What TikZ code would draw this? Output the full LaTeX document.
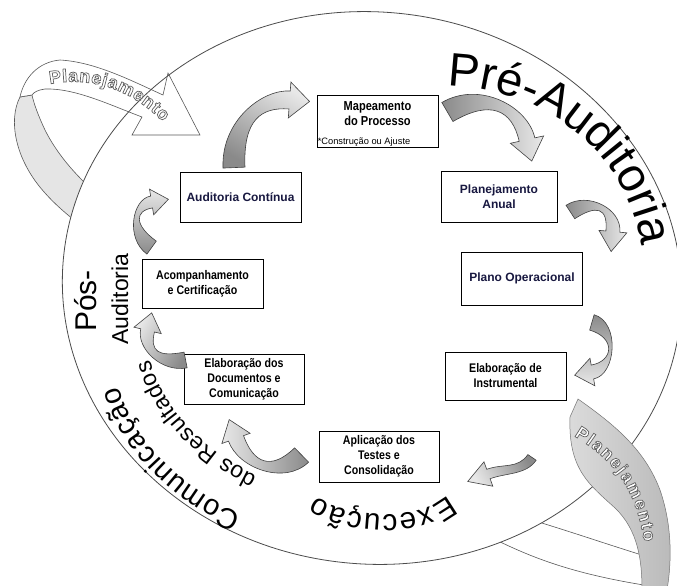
\documentclass[tikz,border=0pt]{standalone}
\usepackage{fontspec}
\setmainfont{Liberation Sans}
\newfontfamily\narrowfont{Liberation Sans}[FakeStretch=0.85]
\newfontfamily\ribbonfont{Liberation Sans}[FakeBold=4]
\usepackage{tikz}
\usetikzlibrary{calc}
\usetikzlibrary{shadows}
\usetikzlibrary{decorations.text}

\definecolor{boxNavy}{RGB}{24,24,64}
\definecolor{arrowDark}{RGB}{138,138,138}
\definecolor{arrowLight}{RGB}{232,232,232}

\tikzset{
	stepBox/.style={rectangle, draw=black, fill=white, line width=0.8pt, minimum width=121pt, minimum height=50pt, align=center, inner sep=2pt,
		drop shadow={shadow xshift=0.9pt, shadow yshift=-0.9pt, fill=black!65, opacity=1}},
	narrowBold/.style={font=\narrowfont\bfseries\fontsize{12.5}{15}\selectfont},
	navyBold/.style={font=\bfseries\fontsize{12}{15}\selectfont, text=boxNavy},
	smallNote/.style={font=\fontsize{9.3}{10}\selectfont},
	flowArrow/.style={draw=black!75, line width=0.6pt, left color=arrowDark, right color=arrowLight},
}

% curved block arrow: [shading] {tail}{control 1}{control 2}{neck}{tail width}{neck width}{head width}{head length}
\newcommand{\curvedArrow}[9][]{%
	\coordinate (ca0) at (#2);
	\coordinate (ca1) at (#3);
	\coordinate (ca2) at (#4);
	\coordinate (ca3) at (#5);
	\draw[flowArrow,#1] ($(ca0)!#6!90:(ca1)$) .. controls ($(ca1)!#6!-90:(ca0)$) and ($(ca2)!#7!90:(ca3)$) .. ($(ca3)!#7!-90:(ca2)$)
		-- ($(ca3)!#8!-90:(ca2)$) -- ($(ca3)!-#9!(ca2)$) -- ($(ca3)!#8!90:(ca2)$)
		-- ($(ca3)!#7!90:(ca2)$) .. controls ($(ca2)!#7!-90:(ca3)$) and ($(ca1)!#6!90:(ca0)$) .. ($(ca0)!#6!-90:(ca1)$) -- cycle;
}

\begin{document}
\begin{tikzpicture}[x=1pt, y=-1pt,
		ribbonFront/.style={draw=black!65, line width=0.6pt, fill=white},
		ribbonBack/.style={draw=black!65, line width=0.6pt, fill=black!10},
		ribbonBand/.style={draw=black!55, line width=0.5pt, left color=black!14, right color=black!27},
		ribbonEdge/.style={draw=black!65, line width=0.6pt},
		% white letters, grey outline (stroke colour set after the fill colour)
		ribbonText/.style={decorate, decoration={text along path, text align=fit to path,
			text={|\ribbonfont\bfseries\fontsize{18}{18}\selectfont\color{white}\special{pdf:literal direct 0.38 G}|Planejamento}}},
		curvedTitle/.style 2 args={decorate, decoration={text along path, text align=fit to path,
			text={|\fontsize{#1}{#1}\selectfont|#2}}}]

		\useasboundingbox (0,0) rectangle (677,586);
		\fill[white] (0,0) rectangle (677,586);
		\clip (0,0) rectangle (677,586);

		% back side of the lower ribbon (passes under the ellipse)
		\draw[ribbonEdge] (515,515) .. controls (560,528) and (600,542) .. (645,556);
		\draw[ribbonEdge] (480,532) .. controls (520,552) and (560,572) .. (650,586);

		% back side of the upper ribbon
		\draw[ribbonBack] (20,97) .. controls (8,120) and (15,160) .. (45,193) .. controls (60,210) and (80,225) .. (100,240)
			-- (110,205) .. controls (85,185) and (60,160) .. (45,130) .. controls (38,115) and (34,104) .. (32,95) -- cycle;

		% main ellipse - fill now, outline after the ribbon so it shows through
		\fill[white, rotate around={-6:(372,288)}] (372,288) ellipse [x radius=310, y radius=276];

		% front of the upper ribbon, ends in the arrow head
		\draw[ribbonFront] (20,97) .. controls (24,78) and (38,62) .. (60,60) .. controls (95,62) and (130,80) .. (163,95)
			-- (168,73) -- (200,135) -- (132,135) -- (142,117)
			.. controls (110,105) and (75,88) .. (45,89) .. controls (38,90) and (34,92) .. (32,95) -- cycle;

		\draw[black!70, line width=0.8pt, rotate around={-6:(372,288)}] (372,288) ellipse [x radius=310, y radius=276];

		\path[ribbonText] (50,84) .. controls (92,76) and (132,90) .. (163,122);

		% lower ribbon (in front of the ellipse)
		\draw[ribbonBand] (578,399) .. controls (615,425) and (645,450) .. (660,490) .. controls (672,525) and (672,560) .. (667,590)
			-- (642,590) .. controls (642,560) and (638,530) .. (615,508) .. controls (590,485) and (568,470) .. (570,417) -- cycle;
		\path[ribbonText] (574,436) .. controls (605,455) and (635,480) .. (644,542);

		% process boxes, clockwise from the top
		\node[stepBox, narrowBold, font=\narrowfont\bfseries\fontsize{13}{15}\selectfont, minimum height=52pt, text depth=14pt,
			label={[smallNote, anchor=south west, inner sep=1pt]south west:*Construção ou Ajuste}] (mapa) at (377.5,121) {Mapeamento\\do Processo};
		\node[stepBox, navyBold, minimum width=116pt, minimum height=51pt] (anual) at (499,196.5) {Planejamento\\Anual};
		\node[stepBox, navyBold, minimum height=53pt] (operacional) at (522,278.5) {Plano Operacional};
		\node[stepBox, narrowBold, minimum height=48pt] (instrumental) at (505.5,376) {Elaboração de\\Instrumental};
		\node[stepBox, narrowBold, minimum width=120pt, minimum height=51pt] (testes) at (379,456.5) {Aplicação dos\\Testes e\\Consolidação};
		\node[stepBox, narrowBold, minimum width=120pt] (documentos) at (244,379) {Elaboração dos\\Documentos e\\Comunicação};
		\node[stepBox, narrowBold, minimum height=49pt] (acompanhamento) at (202.5,283.5) {Acompanhamento\\e Certificação};
		\node[stepBox, navyBold] (continua) at (240.5,197) {Auditoria Contínua};

		% curved arrows between the boxes
		\curvedArrow[shading angle=150]{$(continua.north)+(-6.5,-4)$}{232,120}{262,98}{$(mapa.west)+(-27,-21)$}{11pt}{9pt}{18pt}{20pt}
		\curvedArrow{$(mapa.east)+(9,-9)$}{485,90}{520,108}{$(anual.north)+(28,-31)$}{11pt}{8pt}{17pt}{22pt}
		\curvedArrow{$(anual.east)+(13,15.5)$}{592,198}{615,208}{$(operacional.north east)+(30,-20)$}{8pt}{7pt}{14pt}{20pt}
		\curvedArrow[shading angle=0]{$(operacional.south east)+(9,17)$}{618,330}{615,368}{$(instrumental.east)+(26,-4)$}{8pt}{7pt}{14pt}{18pt}
		\curvedArrow[shading angle=-60]{$(instrumental.south)+(26.5,57)$}{522,472}{505,468}{$(testes.east)+(49,17.5)$}{5pt}{5pt}{13pt}{22pt}
		\curvedArrow[shading angle=-90]{$(testes.west)+(-17,-1.5)$}{278,478}{246,466}{$(documentos.south)+(-8,34)$}{10pt}{8pt}{15pt}{20pt}
		\curvedArrow[shading angle=-120]{$(documentos.west)+(2,-19)$}{160,365}{143,350}{$(acompanhamento.south west)+(6,22)$}{8pt}{7pt}{14pt}{18pt}
		\curvedArrow[shading angle=-180]{$(acompanhamento.north west)+(10,-11)$}{130,232}{133,205}{$(continua.west)+(-28,5)$}{8pt}{6pt}{13pt}{17pt}

		% phase titles along the ellipse
		\path[curvedTitle={47}{Pré-Auditoria}] (447,86) .. controls (548,88) and (628,155) .. (641,246);
		\path[curvedTitle={30}{Execução}] (448,495) .. controls (420,522) and (350,520) .. (316,496);
		\path[curvedTitle={29}{Comunicação}] (242,514) .. controls (185,490) and (135,445) .. (118,386);
		\path[curvedTitle={23}{dos Resultados}] (257,476) .. controls (209,452) and (166,416) .. (150,360);
		\node[rotate=90, font=\fontsize{30}{30}\selectfont] (posLabel) at (86,301) {Pós-};
		\node[rotate=90, font=\fontsize{23}{23}\selectfont] (auditLabel) at (120,299) {Auditoria};

\end{tikzpicture}
\end{document}
